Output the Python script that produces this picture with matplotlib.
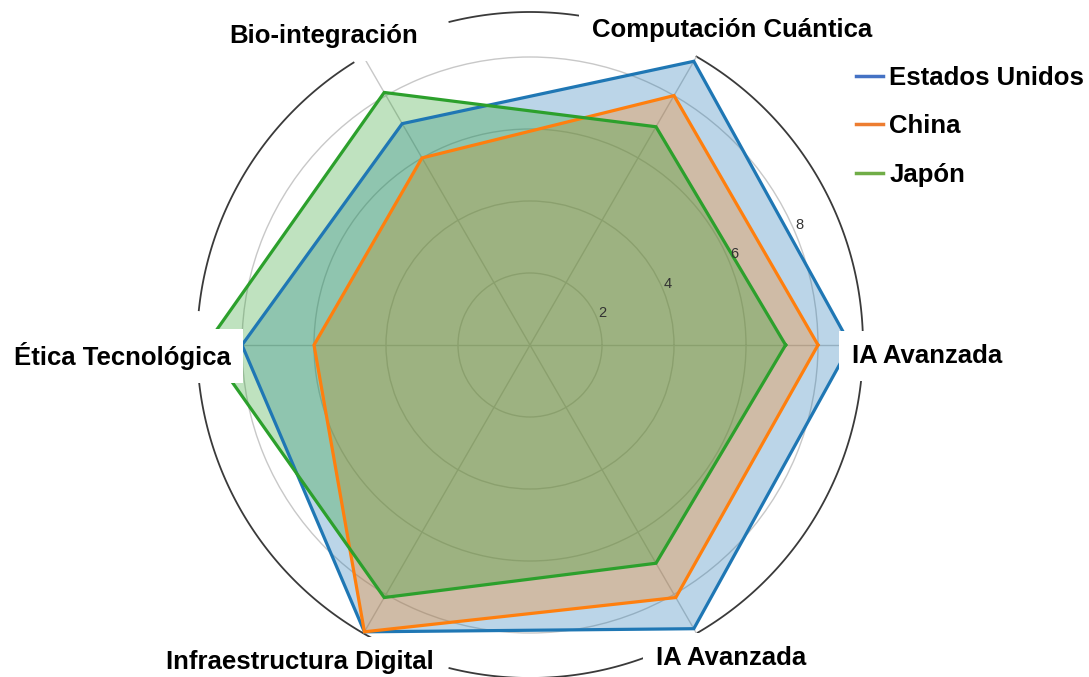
import numpy as np
import matplotlib.pyplot as plt
from matplotlib.lines import Line2D

plt.rcParams['font.family'] = ['Liberation Sans', 'DejaVu Sans']

# datos
categorias = ['IA Avanzada', 'Computación Cuántica', 'Bio-integración',
              'Ética Tecnológica', 'Infraestructura Digital', 'IA Avanzada']
paises = ['Estados Unidos', 'China', 'Japón']
estados_unidos = [8.9, 9.1, 7.1, 8.0, 9.2, 9.1]
china = [8.0, 8.0, 6.0, 6.0, 9.2, 8.1]
japon = [7.1, 7.0, 8.1, 9.0, 8.1, 7.0]
ticks_r = [2, 4, 6, 8]

valores = [estados_unidos, china, japon]
colores_linea = ['#1f77b4', '#ff7f0e', '#2ca02c']
colores_leyenda = ['#4472c4', '#ed7d31', '#70ad47']
rmax = 9.25

W, H = 1089, 677
fig = plt.figure(figsize=(W / 100, H / 100), dpi=100)
cx, cy, rad = 530, 345, 333
ax = fig.add_axes([(cx - rad) / W, (H - cy - rad) / H, 2 * rad / W, 2 * rad / H],
                  projection='polar')

n = len(categorias)
ang = np.arange(n) * 2 * np.pi / n
ang_c = np.append(ang, ang[0])

# rellenos primero, luego las líneas encima
for vals, col in zip(valores, colores_linea):
    v = np.append(vals, vals[0])
    ax.fill(ang_c, v, color=col, alpha=0.3, lw=0, zorder=2)
for vals, col in zip(valores, colores_linea):
    v = np.append(vals, vals[0])
    ax.plot(ang_c, v, color=col, lw=2.3, zorder=3, solid_joinstyle='miter')

ax.set_ylim(0, rmax)
ax.set_yticks(ticks_r)
ax.set_yticklabels([])
ax.set_xticks(ang)
ax.set_xticklabels([])
ax.grid(color='#c8c8c8', lw=1.0)
ax.spines['polar'].set_visible(False)

# numeros del eje radial, encima de las lineas
for t in ticks_r:
    ax.text(np.radians(24), t + 0.2, str(t), fontsize=10.5, color='#333333',
            ha='center', va='center', zorder=4)

# circulo exterior negro con huecos
tramos = [(2, 60), (81, 104), (122, 174), (186, 242), (256, 290), (300, 354)]
for a0, a1 in tramos:
    t = np.radians(np.linspace(a0, a1, 100))
    ax.plot(t, np.full_like(t, rmax), color='#3a3a3a', lw=1.3, clip_on=False, zorder=1)

# etiquetas de los ejes
pos_etiquetas = [(927, 356), (732, 30), (324, 36), (122, 356), (300, 662), (731, 658)]
for txt, (x, y) in zip(categorias, pos_etiquetas):
    caja = dict(facecolor='white', edgecolor='none', pad=9)
    fig.text(x / W, 1 - y / H, txt, ha='center', va='center', fontsize=18.5,
             fontweight='bold', color='black', bbox=caja, zorder=5)

# leyenda
handles = [Line2D([0], [0], color=c, lw=2.5) for c in colores_leyenda]
fig.legend(handles, paises, loc='upper left', bbox_to_anchor=(856 / W, 1 - 66 / H),
           frameon=False, borderpad=0, borderaxespad=0, handlelength=1.05,
           handletextpad=0.25, labelspacing=0.95,
           prop={'weight': 'bold', 'size': 18.5})

fig.savefig('out.png', dpi=100)
